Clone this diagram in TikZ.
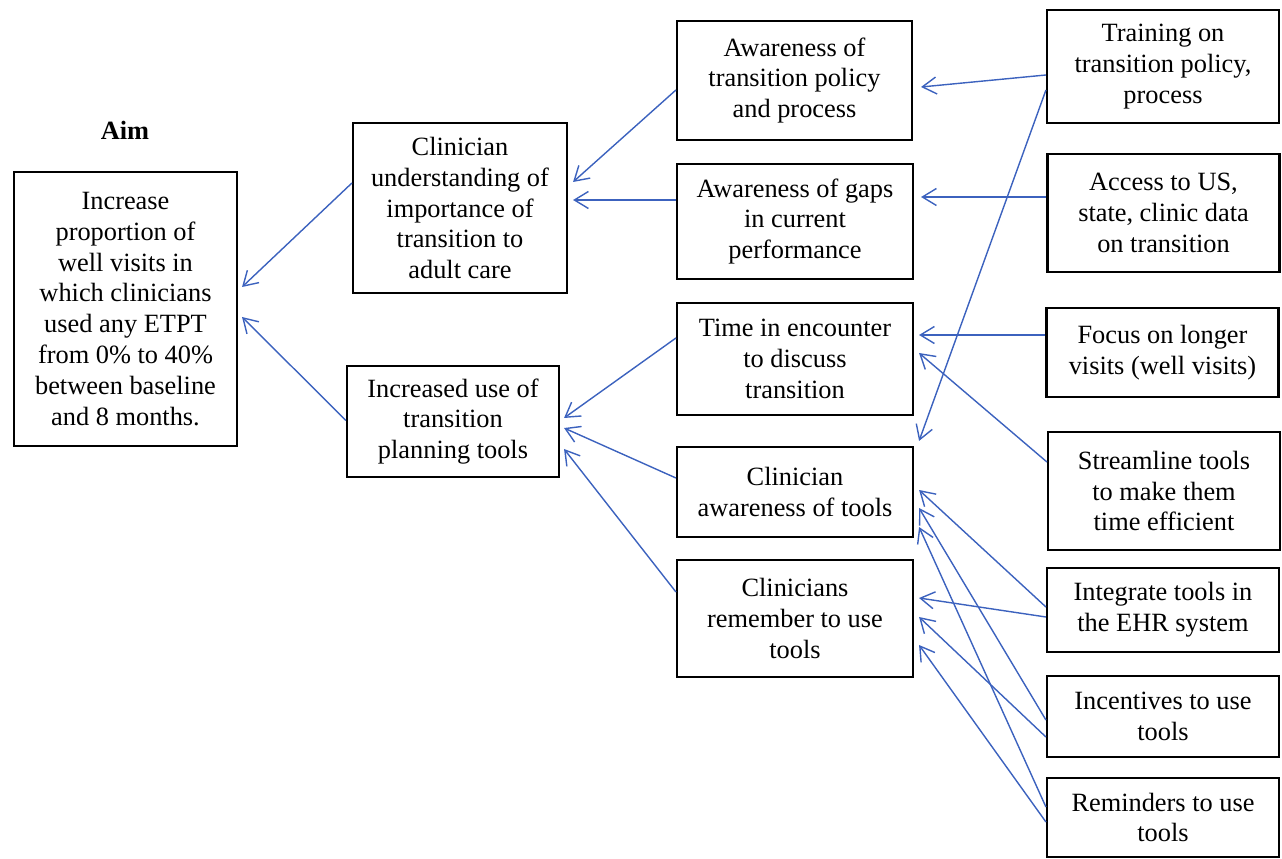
\documentclass[tikz,border=0pt]{standalone}
\usepackage{fontspec}
\setmainfont{Liberation Serif}
\usetikzlibrary{arrows.meta,calc}

\definecolor{lineblue}{RGB}{60,98,190}
\newcommand{\boxfont}{\fontsize{15}{17.6}\selectfont}

\tikzset{
	box/.style={draw, line width=1.2pt, align=center, inner sep=0pt, font=\boxfont},
	midbox/.style={box, minimum width=47.2mm},
	rightbox/.style={box, minimum width=46.4mm},
	arr/.style={draw=lineblue, line width=0.8pt, -{Straight Barb[length=2.8mm,width=3.4mm]}}
}

\begin{document}
\begin{tikzpicture}[x=0.2mm,y=-0.2mm]
	\useasboundingbox (0,0) rectangle (1282,859);

	% aim
	\node[font=\boxfont\bfseries] (aimlbl) at (125,130) {Aim};
	\node[box, minimum width=44.6mm, minimum height=54.8mm] (aim) at (125.5,309) {Increase\\proportion of\\well visits in\\which clinicians\\used any ETPT\\from 0\% to 40\%\\between baseline\\and 8 months.};

	% primary drivers
	\node[box, minimum width=42.8mm, minimum height=34mm] (clin) at (460,208) {Clinician\\understanding of\\importance of\\transition to\\adult care};
	\node[box, minimum width=42.4mm, minimum height=22.2mm] (incr) at (453,421.5) {Increased use of\\transition\\planning tools};

	% secondary drivers
	\node[midbox, minimum width=47mm, minimum height=23.8mm] (polic) at (794.5,80.5) {Awareness of\\transition policy\\and process};
	\node[midbox, minimum height=23mm] (gaps) at (795,221.5) {Awareness of gaps\\in current\\performance};
	\node[midbox, minimum height=22.4mm] (time) at (795,359) {Time in encounter\\to discuss\\transition};
	\node[midbox, minimum height=18mm] (aware) at (795,492) {Clinician\\awareness of tools};
	\node[midbox, minimum height=23.4mm] (remem) at (795,618.5) {Clinicians\\remember to use\\tools};

	% change ideas
	\node[rightbox, minimum height=22.6mm] (train) at (1163,66.5) {Training on\\transition policy,\\process};
	\node[rightbox, minimum height=23.6mm] (access) at (1163.5,213) {Access to US,\\state, clinic data\\on transition};
	\node[rightbox, minimum height=17.8mm] (focus) at (1162.5,352.5) {Focus on longer\\visits (well visits)};
	\node[rightbox, minimum height=23.6mm] (stream) at (1164,491) {Streamline tools\\to make them\\time efficient};
	\node[rightbox, minimum height=16.8mm] (integ) at (1163,610) {Integrate tools in\\the EHR system};
	\node[rightbox, minimum height=16.2mm] (incent) at (1163,716.5) {Incentives to use\\tools};
	\node[rightbox, minimum height=15.8mm] (remind) at (1163,817.5) {Reminders to use\\tools};

	% primary -> aim
	\draw[arr] ($(clin.west)+(0,-25)$) -- ($(aim.east)+(4,-22)$);
	\draw[arr] ($(incr.west)+(0,-1)$) -- ($(aim.east)+(4,8)$);

	% secondary -> primary
	\draw[arr] ($(polic.west)+(0,9.5)$) -- ($(clin.east)+(5,-26)$);
	\draw[arr] ($(gaps.west)+(0,-21.5)$) -- ($(clin.east)+(5,-8)$);
	\draw[arr] ($(time.west)+(0,-21)$) -- ($(incr.east)+(4,-3.5)$);
	\draw[arr] ($(aware.west)+(0,-14)$) -- ($(incr.east)+(4,6.5)$);
	\draw[arr] ($(remem.west)+(0,-26.5)$) -- ($(incr.east)+(4,27.5)$);

	% change ideas -> secondary
	\draw[arr] ($(train.west)+(0,8.5)$) -- ($(polic.east)+(8,6.5)$);
	\draw[arr] ($(train.west)+(0,23.5)$) -- ($(aware.north east)+(5,-5)$);
	\draw[arr] ($(access.west)+(0,-16)$) -- ($(gaps.east)+(7,-24.5)$);
	\draw[arr] ($(focus.west)+(0,-17.5)$) -- ($(time.east)+(5,-24)$);
	\draw[arr] ($(stream.west)+(0,-29)$) -- ($(time.east)+(5,-6)$);
	\draw[arr] ($(integ.west)+(0,-3)$) -- ($(aware.east)+(5,-2)$);
	\draw[arr] ($(integ.west)+(0,7)$) -- ($(remem.east)+(5,-20.5)$);
	\draw[arr] ($(incent.west)+(0,3.5)$) -- ($(aware.east)+(5,16)$);
	\draw[arr] ($(incent.west)+(0,20.5)$) -- ($(remem.east)+(5,-1.5)$);
	\draw[arr] ($(remind.west)+(0,-10.5)$) -- ($(aware.east)+(5,35)$);
	\draw[arr] ($(remind.west)+(0,4.5)$) -- ($(remem.east)+(5,26.5)$);
\end{tikzpicture}
\end{document}
